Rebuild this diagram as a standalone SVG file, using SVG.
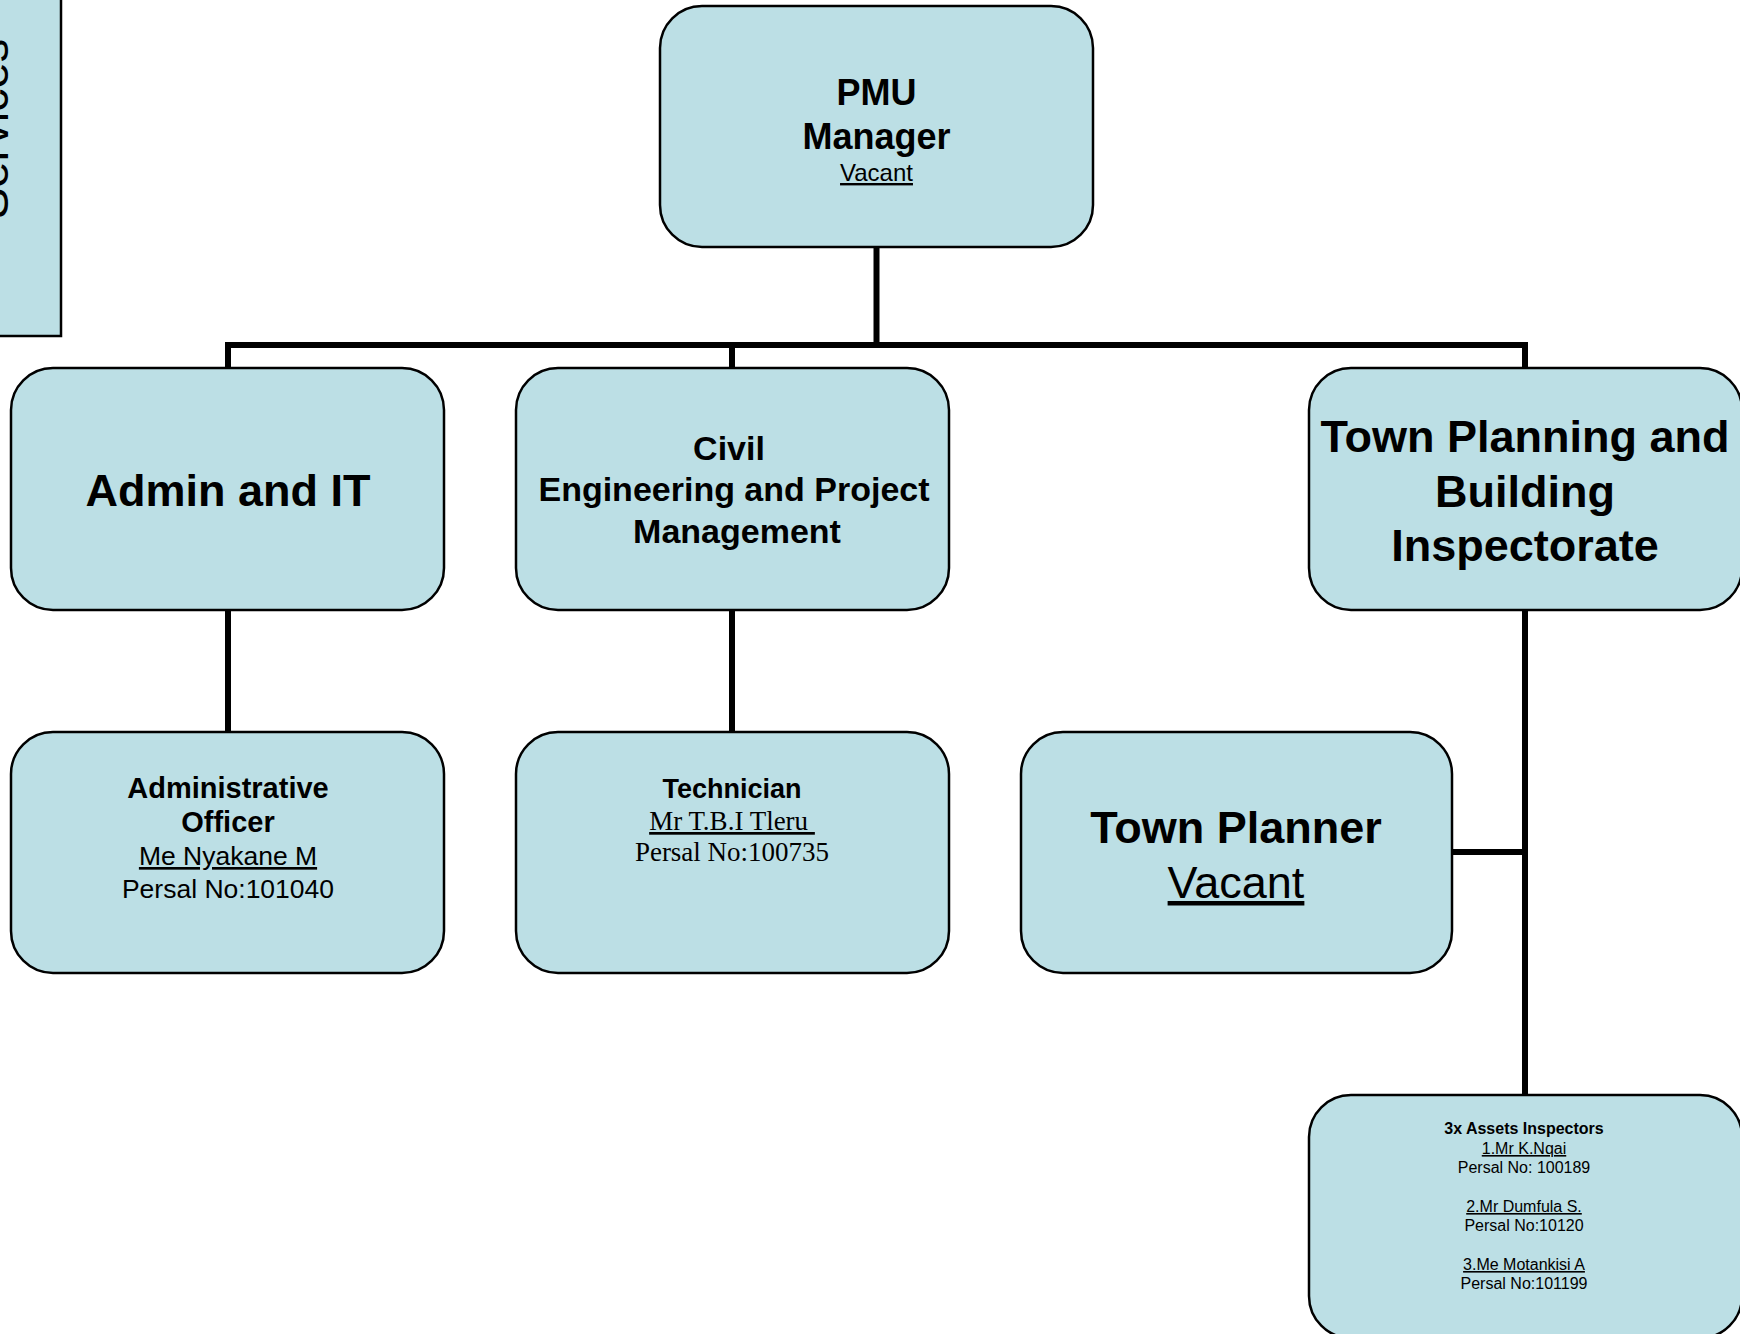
<svg xmlns="http://www.w3.org/2000/svg" width="1740" height="1334" viewBox="0 0 1740 1334">
<style>
.box{fill:#BCDFE5;stroke:#000;stroke-width:2.5}
.con{fill:none;stroke:#000;stroke-width:6;stroke-linejoin:miter;stroke-linecap:butt}
text{font-family:"Liberation Sans",Arial,sans-serif;text-anchor:middle;fill:#000}
.b{font-weight:bold}
.u{text-decoration:underline}
.serif{font-family:"Liberation Serif","Times New Roman",serif}
</style>
<rect width="1740" height="1334" fill="#fff"/>
<g id="services">
<rect x="-10" y="-10" width="71" height="346" fill="#BCDFE5" stroke="#000" stroke-width="2.5"/>
<text transform="translate(8,219) rotate(-90)" style="text-anchor:start;font-size:47px">Services</text>
</g>
<g id="connectors">
<path class="con" d="M876.5,247 V345"/>
<path class="con" d="M228,368 V345 H1525 V368"/>
<path class="con" d="M732,345 V368"/>
<path class="con" d="M228,610 V732"/>
<path class="con" d="M732,610 V732"/>
<path class="con" d="M1525,610 V1095"/>
<path class="con" d="M1452,852 H1525"/>
</g>
<g id="pmu-manager">
<rect class="box" x="660" y="6" width="433" height="241" rx="42"/>
<text class="b" x="876.5" y="105" font-size="36">PMU</text>
<text class="b" x="876.5" y="149" font-size="36">Manager</text>
<text class="u" x="876.5" y="181" font-size="24">Vacant</text>
</g>
<g id="admin-it">
<rect class="box" x="11" y="368" width="433" height="242" rx="42"/>
<text class="b" x="228" y="506" font-size="45">Admin and IT</text>
</g>
<g id="civil-engineering">
<rect class="box" x="516" y="368" width="433" height="242" rx="42"/>
<text class="b" x="729" y="460" font-size="34">Civil</text>
<text class="b" x="734" y="501" font-size="34">Engineering and Project</text>
<text class="b" x="737" y="543" font-size="34">Management</text>
</g>
<g id="town-planning">
<rect class="box" x="1309" y="368" width="433" height="242" rx="42"/>
<text class="b" x="1525" y="452" font-size="45">Town Planning and</text>
<text class="b" x="1525" y="507" font-size="45">Building</text>
<text class="b" x="1525" y="561" font-size="45">Inspectorate</text>
</g>
<g id="administrative-officer">
<rect class="box" x="11" y="732" width="433" height="241" rx="42"/>
<text class="b" x="228" y="798" font-size="29">Administrative</text>
<text class="b" x="228" y="832" font-size="29">Officer</text>
<text class="u" x="228" y="865" font-size="26.5">Me Nyakane M</text>
<text x="228" y="898" font-size="26.5">Persal No:101040</text>
</g>
<g id="technician">
<rect class="box" x="516" y="732" width="433" height="241" rx="42"/>
<text class="b" x="732" y="798" font-size="27">Technician</text>
<text class="serif u" x="732" y="830" font-size="27" xml:space="preserve">Mr T.B.I Tleru </text>
<text class="serif" x="732" y="861" font-size="27">Persal No:100735</text>
</g>
<g id="town-planner">
<rect class="box" x="1021" y="732" width="431" height="241" rx="42"/>
<text class="b" x="1236" y="843" font-size="45">Town Planner</text>
<text class="u" x="1236" y="898" font-size="45">Vacant</text>
</g>
<g id="assets-inspectors">
<rect class="box" x="1309" y="1095" width="433" height="243" rx="42"/>
<text class="b" x="1524" y="1134" font-size="16">3x Assets Inspectors</text>
<text class="u" x="1524" y="1154" font-size="16">1.Mr K.Nqai</text>
<text x="1524" y="1173" font-size="16">Persal No: 100189</text>
<text class="u" x="1524" y="1212" font-size="16">2.Mr Dumfula S.</text>
<text x="1524" y="1231" font-size="16">Persal No:10120</text>
<text class="u" x="1524" y="1270" font-size="16">3.Me Motankisi A</text>
<text x="1524" y="1289" font-size="16">Persal No:101199</text>
</g>
</svg>
